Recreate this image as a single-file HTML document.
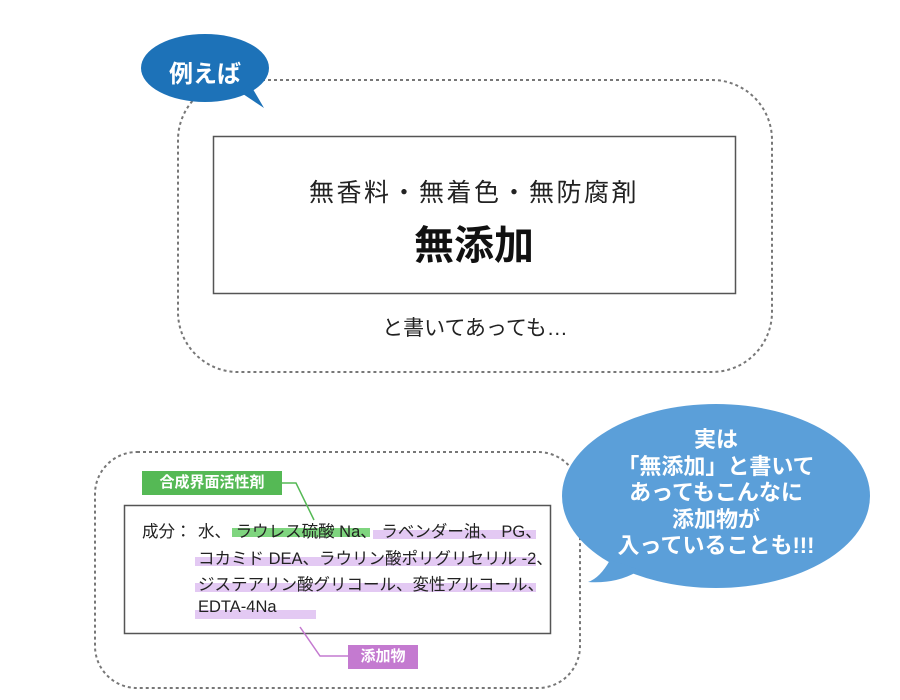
<!DOCTYPE html>
<html><head><meta charset="utf-8"><style>
html,body{margin:0;padding:0;background:#fff;}
body{width:900px;height:700px;position:relative;overflow:hidden;font-family:"Liberation Sans","Noto Sans CJK JP",sans-serif;}
.a{position:absolute;white-space:nowrap;}
.t{font-size:16.5px;color:#222;}
</style></head><body>
<svg width="900" height="700" style="position:absolute;left:0;top:0">
  <rect x="178" y="80" width="594" height="292" rx="60" fill="none" stroke="#777" stroke-width="2" stroke-dasharray="3,3"/>
  <rect x="213.5" y="136.5" width="522" height="157" fill="#fff" stroke="#555" stroke-width="1.5"/>
  <ellipse cx="205" cy="68" rx="64" ry="34" fill="#1d72b8"/>
  <path d="M240 92 L264 108 L250 84 Z" fill="#1d72b8"/>
  <rect x="95" y="452" width="485" height="236" rx="42" fill="none" stroke="#777" stroke-width="2" stroke-dasharray="3,3"/>
  <rect x="124.5" y="505.5" width="426" height="128" fill="#fff" stroke="#555" stroke-width="1.5"/>
  <rect x="232" y="528" width="138" height="9" fill="#7fd57f"/>
  <rect x="373" y="530" width="163" height="9" fill="#e3c9f3"/>
  <rect x="195" y="557" width="341" height="9" fill="#e3c9f3"/>
  <rect x="195" y="583" width="341" height="9" fill="#e3c9f3"/>
  <rect x="195" y="610" width="121" height="9" fill="#e3c9f3"/>
  <polyline points="282,483 296,483 314,520" fill="none" stroke="#55b955" stroke-width="1.5"/>
  <polyline points="300,627 320,656 348,656" fill="none" stroke="#c47ad0" stroke-width="1.5"/>
  <rect x="142" y="471" width="140" height="24" fill="#55b955"/>
  <rect x="348" y="645" width="70" height="24" fill="#c47ad0"/>
  <ellipse cx="716" cy="496" rx="154" ry="92" fill="#5b9fd9"/>
  <path d="M610 560 Q600 578 588 582 Q618 584 640 570 Z" fill="#5b9fd9"/>
</svg>
<div class="a" style="left:141px;top:54px;width:128px;text-align:center;color:#fff;font-weight:bold;font-size:24px;">例えば</div>
<div class="a" style="left:213px;top:173px;width:522px;text-align:center;font-size:25px;letter-spacing:2.5px;color:#222;">無香料・無着色・無防腐剤</div>
<div class="a" style="left:213px;top:213px;width:522px;text-align:center;font-size:40px;font-weight:bold;color:#111;">無添加</div>
<div class="a" style="left:178px;top:312px;width:594px;text-align:center;font-size:21px;color:#222;">と書いてあっても…</div>
<div class="a" style="left:142px;top:472px;width:140px;text-align:center;color:#fff;font-weight:bold;font-size:15px;line-height:22px;">合成界面活性剤</div>
<div class="a" style="left:348px;top:646px;width:70px;text-align:center;color:#fff;font-weight:bold;font-size:15px;line-height:22px;">添加物</div>
<div class="a t" style="left:142px;top:518px;">成分：</div>
<div class="a t" style="left:198px;top:518px;">水、 ラウレス硫酸 Na、 ラベンダー油、 PG、</div>
<div class="a t" style="left:198px;top:545px;">コカミド DEA、ラウリン酸ポリグリセリル -2、</div>
<div class="a t" style="left:198px;top:571px;">ジステアリン酸グリコール、変性アルコール、</div>
<div class="a t" style="left:198px;top:598px;">EDTA-4Na</div>
<div class="a" style="left:562px;top:427px;width:308px;text-align:center;color:#fff;font-weight:bold;font-size:22px;line-height:26.5px;">実は<br>「無添加」と書いて<br>あってもこんなに<br>添加物が<br>入っていることも!!!</div>
</body></html>
